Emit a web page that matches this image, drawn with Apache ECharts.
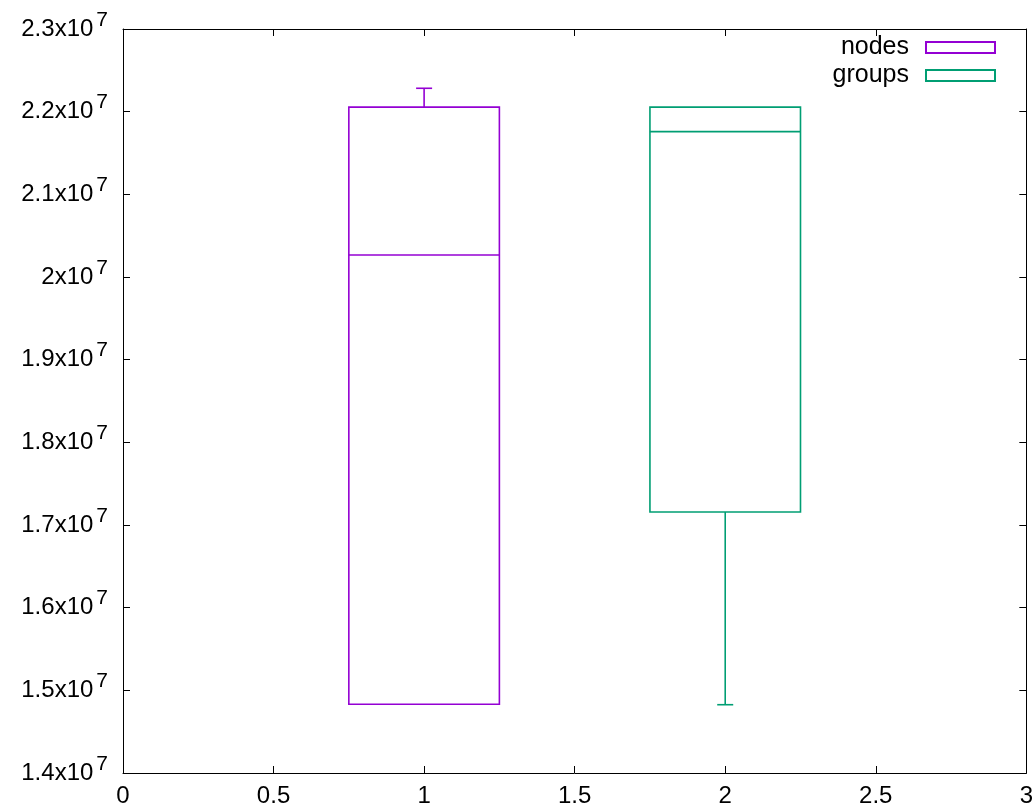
<!DOCTYPE html>
<html>
<head>
<meta charset="utf-8">
<script src="https://cdn.jsdelivr.net/npm/echarts@6/dist/echarts.min.js"></script>
<style>html,body{margin:0;padding:0;background:#fff;}#c{width:1036px;height:811px;}</style>
</head>
<body>
<div id="c"></div>
<script>
// ---- data ----
const seriesNames = ['nodes', 'groups'];
const seriesColors = ['#9400d3', '#009e73'];
const positions = [1, 2];
// [min, q1, median, q3, max]
const nodesStats = [14831000, 14831000, 20266000, 22055000, 22283000];
const groupsStats = [14826000, 17157000, 21758000, 22055000, 22055000];
const xTickValues = [0, 0.5, 1, 1.5, 2, 2.5, 3];
const yTickMantissas = [1.4, 1.5, 1.6, 1.7, 1.8, 1.9, 2, 2.1, 2.2, 2.3];
const yExponent = 7;

const allStats = [nodesStats, groupsStats];

const FONT = '"Liberation Sans", Arial, sans-serif';

function renderBox(params, api) {
  const x = api.value(0);
  const vMin = api.value(1), vQ1 = api.value(2), vMed = api.value(3), vQ3 = api.value(4), vMax = api.value(5);
  const half = 0.25;
  const pL = api.coord([x - half, vQ3]);
  const pR = api.coord([x + half, vQ1]);
  const xc = api.coord([x, vMed])[0];
  const yMed = api.coord([x, vMed])[1];
  const yMin = api.coord([x, vMin])[1];
  const yMax = api.coord([x, vMax])[1];
  const capHalf = 8;
  const color = api.visual('color');
  const style = { stroke: color, fill: null, lineWidth: 1.6 };
  const children = [
    { type: 'rect', shape: { x: pL[0], y: pL[1], width: pR[0] - pL[0], height: pR[1] - pL[1] }, style: style },
    { type: 'line', shape: { x1: pL[0], y1: yMed, x2: pR[0], y2: yMed }, style: style }
  ];
  if (vMax > vQ3) {
    children.push({ type: 'line', shape: { x1: xc, y1: pL[1], x2: xc, y2: yMax }, style: style });
    children.push({ type: 'line', shape: { x1: xc - capHalf, y1: yMax, x2: xc + capHalf, y2: yMax }, style: style });
  }
  if (vMin < vQ1) {
    children.push({ type: 'line', shape: { x1: xc, y1: pR[1], x2: xc, y2: yMin }, style: style });
    children.push({ type: 'line', shape: { x1: xc - capHalf, y1: yMin, x2: xc + capHalf, y2: yMin }, style: style });
  }
  return { type: 'group', children: children };
}

function yLabel(v) {
  const m = Math.round(v / Math.pow(10, yExponent) * 10) / 10;
  const match = yTickMantissas.find(t => Math.abs(t - m) < 1e-9);
  const s = (match !== undefined ? match : m).toString();
  return '{b|' + s + 'x10}{s|' + yExponent + '}';
}

const axisCommon = {
  axisLine: { show: true, onZero: false, lineStyle: { color: '#000', width: 1 } },
  axisTick: { show: true, inside: true, length: 7, lineStyle: { color: '#000', width: 1 } },
  splitLine: { show: false }
};

const option = {
  animation: false,
  backgroundColor: '#fff',
  grid: { left: 123, right: 9, top: 29, bottom: 38, containLabel: false },
  legend: {
    orient: 'vertical',
    right: 40,
    top: 35,
    padding: 0,
    align: 'right',
    icon: 'rect',
    itemWidth: 69,
    itemHeight: 11,
    itemGap: 3,
    textStyle: { fontFamily: FONT, fontSize: 25, color: '#000', lineHeight: 24, padding: [0, 12, 0, 0] },
    data: seriesNames.map((n, i) => ({
      name: n,
      itemStyle: { color: '#fff', borderColor: seriesColors[i], borderWidth: 2 }
    }))
  },
  xAxis: [
    Object.assign({}, axisCommon, {
      type: 'value', min: 0, max: 3, interval: 0.5, position: 'bottom',
      axisLabel: {
        show: true, margin: 11, color: '#000', fontFamily: FONT, fontSize: 24,
        formatter: v => { const t = xTickValues.find(a => Math.abs(a - v) < 1e-9); return String(t !== undefined ? t : v); }
      }
    }),
    Object.assign({}, axisCommon, {
      type: 'value', min: 0, max: 3, interval: 0.5, position: 'top',
      axisLabel: { show: false }
    })
  ],
  yAxis: [
    Object.assign({}, axisCommon, {
      type: 'value', min: 14000000, max: 23000000, interval: 1000000, position: 'left',
      axisLabel: {
        show: true, margin: 15, color: '#000', fontFamily: FONT,
        formatter: yLabel,
        rich: {
          b: { fontFamily: FONT, fontSize: 24, color: '#000' },
          s: { fontFamily: FONT, fontSize: 21, color: '#000', padding: [0, 0, 18, 3] }
        }
      }
    }),
    Object.assign({}, axisCommon, {
      type: 'value', min: 14000000, max: 23000000, interval: 1000000, position: 'right',
      axisLabel: { show: false }
    })
  ],
  series: seriesNames.map((n, i) => ({
    name: n,
    type: 'custom',
    xAxisIndex: 0,
    yAxisIndex: 0,
    renderItem: renderBox,
    itemStyle: { color: seriesColors[i] },
    encode: { x: 0, y: [1, 2, 3, 4, 5] },
    data: [[positions[i]].concat(allStats[i])]
  }))
};

const chart = echarts.init(document.getElementById('c'), null, { renderer: 'canvas' });
chart.setOption(option);
</script>
</body>
</html>
